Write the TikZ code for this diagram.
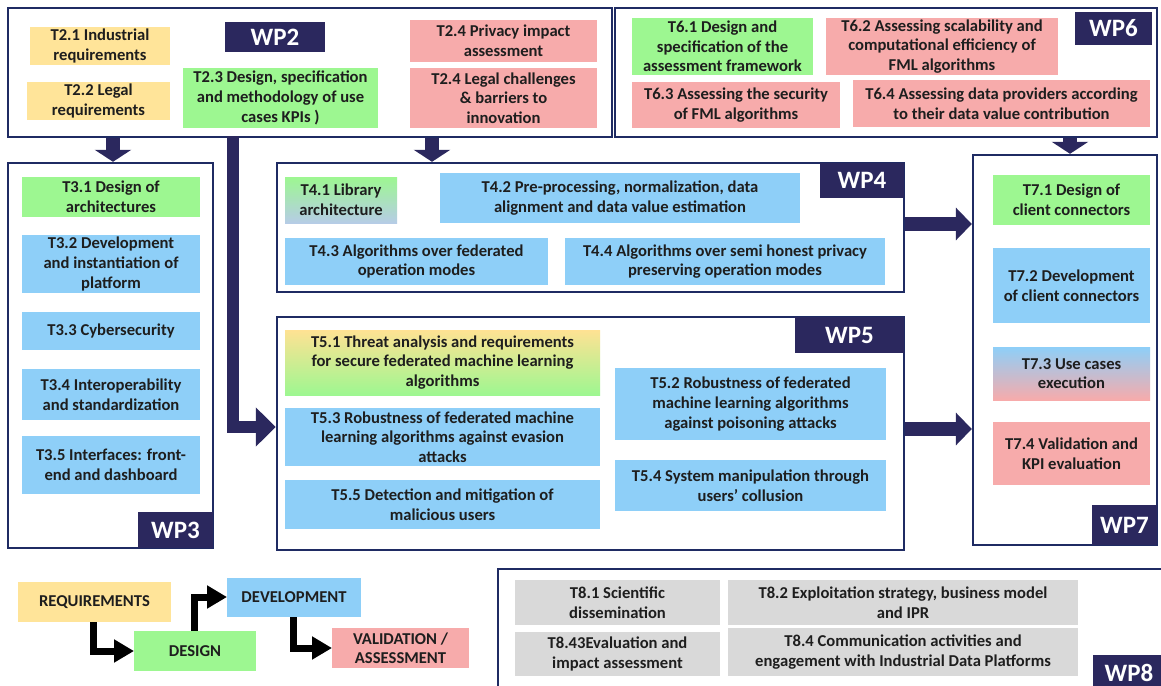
\documentclass[tikz,border=0pt]{standalone}
\usepackage{fontspec}
\setmainfont{Carlito}
\usetikzlibrary{arrows.meta}

\definecolor{navy}{HTML}{2B285E}
\definecolor{frameblue}{HTML}{1F2B63}
\definecolor{reqc}{HTML}{FFE499}
\definecolor{desc}{HTML}{9DF791}
\definecolor{devc}{HTML}{8ECFF8}
\definecolor{valc}{HTML}{F7ABAB}
\definecolor{disc}{HTML}{D9D9D9}
\definecolor{ink}{HTML}{1E1E1E}
\definecolor{libbot}{HTML}{B6CCE6}
\definecolor{t51top}{HTML}{FFE293}

% box given by its corners: name, style, x1, y1, x2, y2, text
\newcommand\tbox[7]{%
  \node[#2, minimum width={(#5)-(#3)}, minimum height={(#6)-(#4)}]
    (#1) at ({((#3)+(#5))/2},{((#4)+(#6))/2}) {#7};}

\tikzset{
  task/.style={inner sep=0pt, outer sep=0pt, align=center, text=ink,
    font=\bfseries\fontsize{16.6}{19.6}\selectfont},
  wpframe/.style={draw=frameblue, line width=2.4pt, fill=white, inner sep=0pt},
  wplabel/.style={fill=navy, text=white, inner sep=0pt, outer sep=0pt,
    font=\bfseries\fontsize{25}{26}\selectfont},
  bigarrow/.style={draw=navy, line width=14pt, -{Triangle[width=32pt,length=16pt]}},
  shortarrow/.style={draw=navy, line width=14pt, -{Triangle[width=36pt,length=12pt]}},
  bararrow/.style={draw=navy, line width=12pt, line join=miter,
    -{Triangle[width=38pt,length=20pt]}},
  legarrow/.style={draw=black, line width=7pt, line join=miter,
    -{Triangle[width=22pt,length=20pt]}},
  legend/.style={task, font=\bfseries\fontsize{16.6}{19}\selectfont},
}

\begin{document}
\begin{tikzpicture}[x=1pt,y=-1pt]
\useasboundingbox (0,0) rectangle (1161,685);
\clip (0,0) rectangle (1161,685);
\fill[white] (0,0) rectangle (1161,685);

% work package frames
\tbox{wp2}{wpframe}{8}{8}{612}{137}{}
\tbox{wp6}{wpframe}{615}{8}{1157}{137}{}
\tbox{wp3}{wpframe}{8}{163}{213}{548}{}
\tbox{wp4}{wpframe}{277}{163}{904}{292}{}
\tbox{wp5}{wpframe}{277}{317}{904}{550}{}
\tbox{wp7}{wpframe}{973}{155}{1157}{545}{}
\tbox{wp8}{wpframe}{498}{569}{1175}{700}{}

% WP2
\tbox{l2}{wplabel}{225}{22}{325}{52}{WP2}
\tbox{t21}{task,fill=reqc}{30}{27}{170}{65}{T2.1 Industrial\\requirements}
\tbox{t22}{task,fill=reqc}{27}{82}{170}{120}{T2.2 Legal\\requirements}
\tbox{t23}{task,fill=desc}{183}{68}{378}{128}{T2.3 Design, specification\\and methodology of use\\cases KPIs )}
\tbox{t24a}{task,fill=valc}{410}{20}{597}{62}{T2.4 Privacy impact\\assessment}
\tbox{t24b}{task,fill=valc}{410}{68}{597}{128}{T2.4 Legal challenges\\\& barriers to\\innovation}

% WP6
\tbox{l6}{wplabel}{1075}{12}{1152}{45}{WP6}
\tbox{t61}{task,fill=desc}{632}{18}{813}{75}{T6.1 Design and\\specification of the\\assessment framework}
\tbox{t62}{task,fill=valc}{826}{18}{1058}{75}{T6.2 Assessing scalability and\\computational efficiency of\\FML algorithms}
\tbox{t63}{task,fill=valc}{632}{82}{840}{128}{T6.3 Assessing the security\\of FML algorithms}
\tbox{t64}{task,fill=valc}{853}{80}{1150}{127}{T6.4 Assessing data providers according\\to their data value contribution}

% WP3
\tbox{l3}{wplabel}{138}{512}{213}{548}{WP3}
\tbox{t31}{task,fill=desc}{22}{177}{200}{217}{T3.1 Design of\\architectures}
\tbox{t32}{task,fill=devc}{22}{235}{200}{293}{T3.2 Development\\and instantiation of\\platform}
\tbox{t33}{task,fill=devc}{22}{312}{200}{350}{T3.3 Cybersecurity}
\tbox{t34}{task,fill=devc}{22}{369}{200}{420}{T3.4 Interoperability\\and standardization}
\tbox{t35}{task,fill=devc}{22}{436}{200}{494}{T3.5 Interfaces: front-\\end and dashboard}

% WP4
\tbox{l4}{wplabel}{820}{163}{904}{198}{WP4}
\tbox{t41}{task,top color=desc,bottom color=libbot}{285}{177}{397}{223}{T4.1 Library\\architecture}
\tbox{t42}{task,fill=devc}{440}{173}{800}{223}{T4.2 Pre-processing, normalization, data\\alignment and data value estimation}
\tbox{t43}{task,fill=devc}{285}{238}{548}{285}{T4.3 Algorithms over federated\\operation modes}
\tbox{t44}{task,fill=devc}{565}{238}{885}{285}{T4.4 Algorithms over semi honest privacy\\preserving operation modes}

% WP5
\tbox{l5}{wplabel}{795}{317}{904}{353}{WP5}
\tbox{t51}{task,top color=t51top,bottom color=desc}{285}{330}{600}{395}{T5.1 Threat analysis and requirements\\for secure federated machine learning\\algorithms}
\tbox{t53}{task,fill=devc}{285}{408}{600}{466}{T5.3 Robustness of federated machine\\learning algorithms against evasion\\attacks}
\tbox{t55}{task,fill=devc}{285}{480}{600}{529}{T5.5 Detection and mitigation of\\malicious users}
\tbox{t52}{task,fill=devc}{615}{368}{886}{440}{T5.2 Robustness of federated\\machine learning algorithms\\against poisoning attacks}
\tbox{t54}{task,fill=devc}{615}{460}{886}{511}{T5.4 System manipulation through\\users’ collusion}

% WP7
\tbox{l7}{wplabel}{1092}{505}{1157}{545}{WP7}
\tbox{t71}{task,fill=desc}{993}{175}{1150}{225}{T7.1 Design of\\client connectors}
\tbox{t72}{task,fill=devc}{993}{248}{1150}{323}{T7.2 Development\\of client connectors}
\tbox{t73}{task,top color=devc,middle color=valc,bottom color=valc}{993}{347}{1150}{400}{T7.3 Use cases\\execution}
\tbox{t74}{task,fill=valc}{993}{422}{1150}{485}{T7.4 Validation and\\KPI evaluation}

% WP8
\tbox{l8}{wplabel}{1093}{655}{1165}{690}{WP8}
\tbox{t81}{task,fill=disc}{515}{580}{720}{625}{T8.1 Scientific\\dissemination}
\tbox{t82}{task,fill=disc}{728}{580}{1078}{625}{T8.2 Exploitation strategy, business model\\and IPR}
\tbox{t83}{task,fill=disc}{515}{632}{720}{676}{T8.43Evaluation and\\impact assessment}
\tbox{t84}{task,fill=disc}{728}{628}{1078}{676}{T8.4 Communication activities and\\engagement with Industrial Data Platforms}

% flow between work packages
\draw[shortarrow] (wp2.south -| 113,0) -- (wp3.north -| 113,0);
\draw[shortarrow] (wp2.south -| 432,0) -- (wp4.north -| 432,0);
\draw[shortarrow] (wp6.south -| 1070,0) -- (wp7.north -| 1070,0);
\coordinate (wp2out) at (233,136);
\draw[bararrow] (wp2out) |- (wp5.west |- 0,427);
\draw[bigarrow] (wp4.east |- 0,224) -- (wp7.west |- 0,224);
\draw[bigarrow] (wp5.east |- 0,429) -- (wp7.west |- 0,429);

% legend
\tbox{req}{legend,fill=reqc}{18}{582}{171}{622}{REQUIREMENTS}
\tbox{des}{legend,fill=desc}{134}{631}{256}{671}{DESIGN}
\tbox{dev}{legend,fill=devc}{227}{578}{361}{617}{DEVELOPMENT}
\tbox{val}{legend,fill=valc}{332}{628}{469}{668}{VALIDATION /\\ASSESSMENT}
\draw[legarrow] (req.south -| 93,0) |- (des.west |- 0,651);
\draw[legarrow] (des.north -| 194,0) |- (dev.west |- 0,597);
\draw[legarrow] (dev.south -| 293,0) |- (val.west |- 0,648);
\end{tikzpicture}
\end{document}
